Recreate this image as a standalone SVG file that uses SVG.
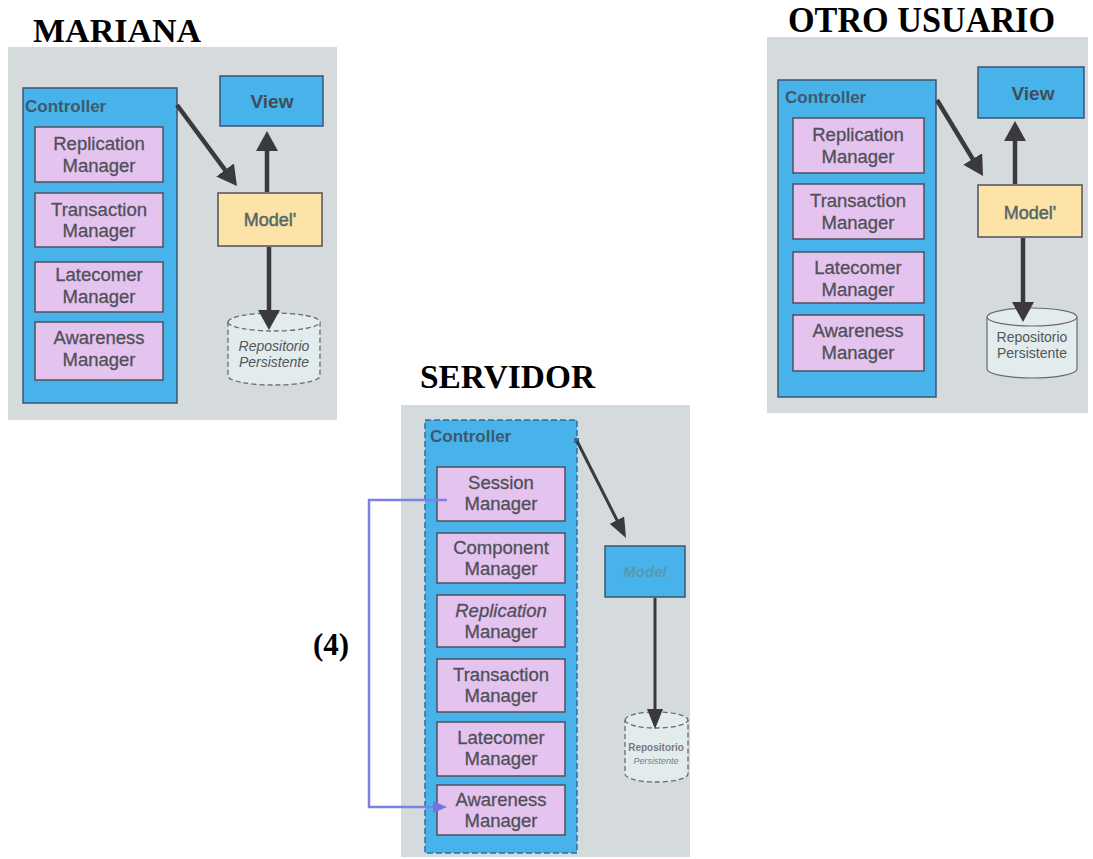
<svg xmlns="http://www.w3.org/2000/svg" width="1093" height="859" viewBox="0 0 1093 859">
  <defs>
    <style>
      .panel{fill:#d5dadd}
      .ctrl{fill:#48b3ea;stroke:#3b5570;stroke-width:1.5}
      .ctrl-d{fill:#48b3ea;stroke:#2f6f9f;stroke-width:1.5;stroke-dasharray:6 3}
      .mgr{fill:#e4c3ef;stroke:#50505a;stroke-width:1.5}
      .mgr-t{font-family:"Liberation Sans",Arial,sans-serif;font-size:18.5px;fill:#505058;stroke:#505058;stroke-width:0.3;text-anchor:middle}
      .it{font-style:italic}
      .title{font-family:"Liberation Serif","Times New Roman",serif;font-weight:bold;font-size:34px;fill:#000}
      .lbl{font-family:"Liberation Sans",Arial,sans-serif;font-weight:bold;font-size:17px;fill:#3c5a6c}
      .box{fill:#48b3ea;stroke:#3b5570;stroke-width:1.5}
      .model{fill:#fde3a8;stroke:#50505a;stroke-width:1.5}
      .box-t{font-family:"Liberation Sans",Arial,sans-serif;font-weight:bold;font-size:19px;fill:#3e4e5a;text-anchor:middle}
      .model-t{font-family:"Liberation Sans",Arial,sans-serif;font-size:18px;fill:#56686a;stroke:#56686a;stroke-width:0.5;text-anchor:middle}
      .db{fill:#e2ecec;stroke:#6a6a70;stroke-width:1.3;stroke-dasharray:5 3}
      .db-s{fill:#e2ecec;stroke:#6a6a70;stroke-width:1.2}
      .db-t{font-family:"Liberation Sans",Arial,sans-serif;font-size:14px;fill:#55555c;text-anchor:middle}
      .arrow{stroke:#3a3a3e;stroke-width:4.5;fill:none}
      .arrow-s{stroke:#3a3a3e;stroke-width:3;fill:none}
      .link{stroke:#7c82e4;stroke-width:2.5;fill:none}
    </style>
    <marker id="head" markerUnits="userSpaceOnUse" viewBox="0 0 20 22" refX="12" refY="11" markerWidth="20" markerHeight="22" orient="auto">
      <path d="M0,0 L20,11 L0,22 z" fill="#3a3a3e"/>
    </marker>
    <marker id="headS" markerUnits="userSpaceOnUse" viewBox="0 0 20 16" refX="12" refY="8" markerWidth="20" markerHeight="16" orient="auto">
      <path d="M0,0 L20,8 L0,16 z" fill="#3a3a3e"/>
    </marker>
    <marker id="headB" markerUnits="userSpaceOnUse" viewBox="0 0 14 12" refX="4" refY="6" markerWidth="14" markerHeight="12" orient="auto">
      <path d="M0,0 L14,6 L0,12 z" fill="#6f76e0"/>
    </marker>
  </defs>

  <rect width="1093" height="859" fill="#fff"/>

  <!-- client: MARIANA -->
  <g id="mariana">
    <rect class="panel" x="8" y="47" width="329" height="373"/>
    <text class="title" x="33" y="42">MARIANA</text>
    <g id="m-controller">
      <rect class="ctrl" x="23" y="88" width="154" height="315"/>
      <text class="lbl" x="25" y="112">Controller</text>
    </g>
    <g id="m-replication">
      <rect class="mgr" x="35" y="127" width="128" height="55"/>
      <text class="mgr-t" x="99" y="150">Replication</text>
      <text class="mgr-t" x="99" y="172">Manager</text>
    </g>
    <g id="m-transaction">
      <rect class="mgr" x="35" y="193" width="128" height="54"/>
      <text class="mgr-t" x="99" y="216">Transaction</text>
      <text class="mgr-t" x="99" y="237">Manager</text>
    </g>
    <g id="m-latecomer">
      <rect class="mgr" x="35" y="262" width="128" height="50"/>
      <text class="mgr-t" x="99" y="281">Latecomer</text>
      <text class="mgr-t" x="99" y="303">Manager</text>
    </g>
    <g id="m-awareness">
      <rect class="mgr" x="35" y="322" width="128" height="58"/>
      <text class="mgr-t" x="99" y="344">Awareness</text>
      <text class="mgr-t" x="99" y="366">Manager</text>
    </g>
    <g id="m-view">
      <rect class="box" x="220" y="76" width="103" height="50"/>
      <text class="box-t" x="272" y="108">View</text>
    </g>
    <g id="m-model">
      <rect class="model" x="218" y="193" width="104" height="53"/>
      <text class="model-t" x="270" y="226">Model'</text>
    </g>
    <g id="m-repo">
      <path class="db" d="M228,322 A46,9 0 0 1 320,322 L320,376 A46,9 0 0 1 228,376 Z"/>
      <path class="db" d="M228,322 A46,9 0 0 0 320,322" fill="none"/>
      <text class="db-t it" x="274" y="351">Repositorio</text>
      <text class="db-t it" x="274" y="367">Persistente</text>
    </g>
  </g>

  <!-- client: OTRO USUARIO -->
  <g id="otro">
    <rect class="panel" x="767" y="37" width="321" height="376"/>
    <text class="title" x="788" y="32" style="font-size:35px" textLength="267" lengthAdjust="spacingAndGlyphs">OTRO USUARIO</text>
    <g id="o-controller">
      <rect class="ctrl" x="778" y="80" width="158" height="317"/>
      <text class="lbl" x="785" y="103">Controller</text>
    </g>
    <g id="o-replication">
      <rect class="mgr" x="793" y="118" width="131" height="55"/>
      <text class="mgr-t" x="858" y="141">Replication</text>
      <text class="mgr-t" x="858" y="163">Manager</text>
    </g>
    <g id="o-transaction">
      <rect class="mgr" x="793" y="184" width="131" height="55"/>
      <text class="mgr-t" x="858" y="207">Transaction</text>
      <text class="mgr-t" x="858" y="229">Manager</text>
    </g>
    <g id="o-latecomer">
      <rect class="mgr" x="793" y="252" width="131" height="51"/>
      <text class="mgr-t" x="858" y="274">Latecomer</text>
      <text class="mgr-t" x="858" y="296">Manager</text>
    </g>
    <g id="o-awareness">
      <rect class="mgr" x="793" y="315" width="131" height="56"/>
      <text class="mgr-t" x="858" y="337">Awareness</text>
      <text class="mgr-t" x="858" y="359">Manager</text>
    </g>
    <g id="o-view">
      <rect class="box" x="978" y="67" width="106" height="51"/>
      <text class="box-t" x="1033" y="100">View</text>
    </g>
    <g id="o-model">
      <rect class="model" x="978" y="185" width="104" height="52"/>
      <text class="model-t" x="1030" y="219">Model'</text>
    </g>
    <g id="o-repo">
      <path class="db-s" d="M987,317 A45,9 0 0 1 1077,317 L1077,369 A45,9 0 0 1 987,369 Z"/>
      <path class="db-s" d="M987,317 A45,9 0 0 0 1077,317" fill="none"/>
      <text class="db-t" x="1032" y="342">Repositorio</text>
      <text class="db-t" x="1032" y="358">Persistente</text>
    </g>
  </g>

  <!-- server -->
  <g id="servidor">
    <rect class="panel" x="401" y="405" width="289" height="452"/>
    <text class="title" x="420" y="388" textLength="175" lengthAdjust="spacingAndGlyphs">SERVIDOR</text>
    <g id="s-controller">
      <rect class="ctrl-d" x="425" y="420" width="152" height="433"/>
      <text class="lbl" x="430" y="442">Controller</text>
    </g>
    <g id="s-session">
      <rect class="mgr" x="437" y="467" width="128" height="54"/>
      <text class="mgr-t" x="501" y="489">Session</text>
      <text class="mgr-t" x="501" y="510">Manager</text>
    </g>
    <g id="s-component">
      <rect class="mgr" x="437" y="533" width="128" height="50"/>
      <text class="mgr-t" x="501" y="554">Component</text>
      <text class="mgr-t" x="501" y="575">Manager</text>
    </g>
    <g id="s-replication">
      <rect class="mgr" x="437" y="595" width="128" height="52"/>
      <text class="mgr-t it" x="501" y="617">Replication</text>
      <text class="mgr-t" x="501" y="638">Manager</text>
    </g>
    <g id="s-transaction">
      <rect class="mgr" x="437" y="659" width="128" height="53"/>
      <text class="mgr-t" x="501" y="681">Transaction</text>
      <text class="mgr-t" x="501" y="702">Manager</text>
    </g>
    <g id="s-latecomer">
      <rect class="mgr" x="437" y="722" width="128" height="54"/>
      <text class="mgr-t" x="501" y="744">Latecomer</text>
      <text class="mgr-t" x="501" y="765">Manager</text>
    </g>
    <g id="s-awareness">
      <rect class="mgr" x="437" y="785" width="128" height="50"/>
      <text class="mgr-t" x="501" y="806">Awareness</text>
      <text class="mgr-t" x="501" y="827">Manager</text>
    </g>
    <g id="s-model">
      <rect class="box" x="605" y="546" width="80" height="51"/>
      <text class="box-t it" x="645" y="577" style="font-size:15px;fill:#5a98b0">Model</text>
    </g>
    <g id="s-repo">
      <path class="db" d="M625,720 A31.5,8 0 0 1 688,720 L688,774 A31.5,8 0 0 1 625,774 Z"/>
      <path class="db" d="M625,720 A31.5,8 0 0 0 688,720" fill="none"/>
      <text class="db-t" x="656" y="751" style="font-size:10px;font-weight:bold;fill:#7a7a80">Repositorio</text>
      <text class="db-t it" x="656" y="764" style="font-size:9px;fill:#7a7a80">Persistente</text>
    </g>
    <text class="title" x="313" y="655" style="font-size:31px">(4)</text>
  </g>

  <!-- connectors -->
  <g id="connectors">
    <line class="arrow" x1="177" y1="105" x2="232.2" y2="179.6" marker-end="url(#head)"/>
    <line class="arrow" x1="267" y1="192" x2="267" y2="139" marker-end="url(#head)"/>
    <line class="arrow" x1="269" y1="247" x2="269" y2="322" marker-end="url(#head)"/>

    <line class="arrow" x1="937" y1="100" x2="978.9" y2="169.2" marker-end="url(#head)"/>
    <line class="arrow" x1="1015" y1="184" x2="1015" y2="129" marker-end="url(#head)"/>
    <line class="arrow" x1="1023" y1="238" x2="1023" y2="314" marker-end="url(#head)"/>

    <rect x="574" y="438" width="5" height="5" fill="#3a6a8a"/>
    <line class="arrow-s" x1="577" y1="441" x2="622.4" y2="530.9" marker-end="url(#headS)"/>
    <line class="arrow-s" x1="655" y1="598" x2="655" y2="721" marker-end="url(#headS)"/>

    <path class="link" d="M447,500 H369 V807 H437" marker-end="url(#headB)"/>
  </g>
</svg>
